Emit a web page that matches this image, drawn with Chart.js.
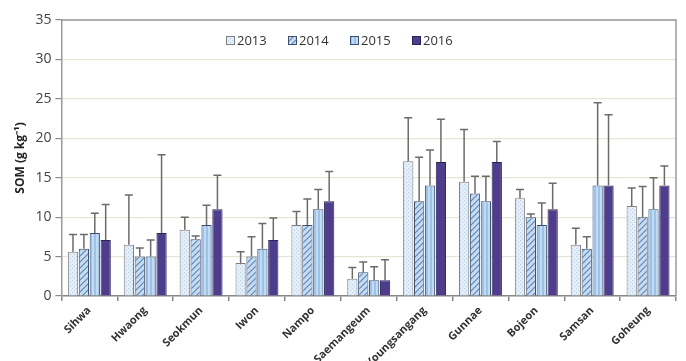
<!DOCTYPE html>
<html>
<head>
<meta charset="utf-8">
<script src="https://cdn.jsdelivr.net/npm/chart.js@4"></script>
<style>
  body { margin: 0; background: #fff; }
  #wrap { width: 686px; height: 361px; }
</style>
</head>
<body>
<div id="wrap"><canvas id="somChart"></canvas></div>
<script>
const sites = ['Sihwa', 'Hwaong', 'Seokmun', 'Iwon', 'Nampo', 'Saemangeum', 'Youngsangang', 'Gunnae', 'Bojeon', 'Samsan', 'Goheung'];
const years = ['2013', '2014', '2015', '2016'];

// mean SOM per year
const som2013 = [5.6, 6.5, 8.4, 4.2, 9.0, 2.2, 17.1, 14.5, 12.4, 6.5, 11.4];
const som2014 = [6.0, 5.0, 7.2, 5.0, 9.0, 3.0, 12.0, 13.0, 10.0, 6.0, 10.0];
const som2015 = [8.0, 5.0, 9.0, 6.0, 11.0, 2.0, 14.0, 12.0, 9.0, 14.0, 11.0];
const som2016 = [7.1, 8.0, 11.0, 7.1, 12.0, 2.0, 17.0, 17.0, 11.0, 14.0, 14.0];

// standard deviations (error bar upper half)
const sd2013 = [2.2, 6.3, 1.6, 1.4, 1.7, 1.4, 5.5, 6.6, 1.1, 2.1, 2.3];
const sd2014 = [1.8, 1.1, 0.4, 2.5, 3.3, 1.3, 5.6, 2.2, 0.4, 1.5, 3.9];
const sd2015 = [2.5, 2.1, 2.5, 3.2, 2.5, 1.7, 4.5, 3.2, 2.8, 10.5, 4.0];
const sd2016 = [4.5, 9.9, 4.3, 2.8, 3.8, 2.6, 5.4, 2.6, 3.3, 9.0, 2.5];

const yTicks = [0, 5, 10, 15, 20, 25, 30, 35];

// fill patterns
function dotPattern() {
  const c = document.createElement('canvas');
  c.width = 4; c.height = 4;
  const g = c.getContext('2d');
  g.fillStyle = '#e4eef8';
  g.fillRect(0, 0, 4, 4);
  g.fillStyle = '#b9cfe6';
  g.fillRect(0, 0, 1, 1);
  g.fillRect(2, 2, 1, 1);
  return g.createPattern(c, 'repeat');
}
function hatchPattern() {
  const c = document.createElement('canvas');
  c.width = 6; c.height = 6;
  const g = c.getContext('2d');
  g.fillStyle = '#c8dcf0';
  g.fillRect(0, 0, 6, 6);
  g.strokeStyle = '#5d86bd';
  g.lineWidth = 1.2;
  g.beginPath();
  g.moveTo(0, 6); g.lineTo(6, 0);
  g.moveTo(-3, 3); g.lineTo(3, -3);
  g.moveTo(3, 9); g.lineTo(9, 3);
  g.stroke();
  return g.createPattern(c, 'repeat');
}
function stripePattern() {
  const c = document.createElement('canvas');
  c.width = 4; c.height = 4;
  const g = c.getContext('2d');
  g.fillStyle = '#9cc2e8';
  g.fillRect(0, 0, 4, 4);
  g.fillStyle = '#c3dbf2';
  g.fillRect(0, 0, 2, 4);
  return g.createPattern(c, 'repeat');
}

const values = [som2013, som2014, som2015, som2016];
const errors = [sd2013, sd2014, sd2015, sd2016];
const fills = [dotPattern(), hatchPattern(), stripePattern(), '#4e3d8c'];
const borders = ['#7f7f7f', '#3f4f6f', '#3a4f74', '#2b2255'];

// draws the upper error whiskers from the bar elements
const errorBars = {
  id: 'errorBars',
  afterDatasetsDraw(chart) {
    const ctx = chart.ctx;
    const y = chart.scales.y;
    ctx.save();
    chart.data.datasets.forEach((ds, i) => {
      const meta = chart.getDatasetMeta(i);
      meta.data.forEach((bar, j) => {
        const top = y.getPixelForValue(ds.data[j] + ds.sd[j]);
        ctx.strokeStyle = '#6b6b6b';
        ctx.lineWidth = 1.5;
        ctx.beginPath();
        ctx.moveTo(bar.x, bar.y);
        ctx.lineTo(bar.x, top);
        ctx.moveTo(bar.x - 4, top);
        ctx.lineTo(bar.x + 4, top);
        ctx.stroke();
      });
    });
    ctx.restore();
  }
};

// frame around the plot area + legend inside it
const frame = {
  id: 'frame',
  afterDraw(chart) {
    const a = chart.chartArea;
    const ctx = chart.ctx;
    ctx.save();
    ctx.strokeStyle = '#9a9a9a';
    ctx.lineWidth = 1.5;
    ctx.beginPath();
    ctx.moveTo(a.left, a.top);
    ctx.lineTo(a.right, a.top);
    ctx.lineTo(a.right, a.bottom);
    ctx.stroke();

    // legend row
    const step = 62;
    let x = 226;
    const yMid = a.top + 21;
    ctx.font = '13px "Open Sans"';
    ctx.textBaseline = 'middle';
    chart.data.datasets.forEach((ds, i) => {
      ctx.fillStyle = '#fff';
      ctx.fillRect(x, yMid - 5, 9, 9);
      ctx.fillStyle = ds.backgroundColor;
      ctx.fillRect(x, yMid - 5, 9, 9);
      ctx.strokeStyle = ds.borderColor;
      ctx.lineWidth = 1;
      ctx.strokeRect(x + 0.5, yMid - 4.5, 8, 8);
      ctx.fillStyle = '#333';
      ctx.fillText(ds.label, x + 11, yMid);
      x += step;
    });
    ctx.restore();
  }
};

new Chart(document.getElementById('somChart'), {
  type: 'bar',
  data: {
    labels: sites,
    datasets: years.map((yr, i) => ({
      label: yr,
      data: values[i],
      sd: errors[i],
      backgroundColor: fills[i],
      borderColor: borders[i],
      borderWidth: 1,
      borderSkipped: 'bottom',
      barPercentage: 0.94,
      categoryPercentage: 0.78
    }))
  },
  options: {
    responsive: true,
    maintainAspectRatio: false,
    animation: false,
    layout: { padding: { top: 20, right: 10, left: 9, bottom: 0 } },
    plugins: {
      legend: { display: false },
      tooltip: { enabled: false }
    },
    scales: {
      x: {
        afterFit: axis => { axis.height = 65; },
        grid: {
          offset: true,
          drawOnChartArea: false,
          color: '#888',
          tickLength: 5,
          lineWidth: 1.5
        },
        border: { color: '#888', width: 1.5 },
        ticks: {
          maxRotation: 45,
          minRotation: 45,
          color: '#333',
          font: { family: 'Open Sans', size: 11, weight: 'bold' }
        }
      },
      y: {
        min: 0,
        max: 35,
        afterBuildTicks: axis => { axis.ticks = yTicks.map(v => ({ value: v })); },
        grid: { color: '#e6e6d6', lineWidth: 1.2, tickLength: 6, tickColor: '#888' },
        border: { color: '#9a9a9a', width: 1.5 },
        ticks: { color: '#444', padding: 4, font: { family: 'Open Sans', size: 14 } },
        title: {
          display: true,
          text: 'SOM (g kg\u207B\u00B9)',
          color: '#222',
          font: { family: 'Open Sans', size: 12, weight: 'bold' }
        }
      }
    }
  },
  plugins: [errorBars, frame]
});
</script>
</body>
</html>
